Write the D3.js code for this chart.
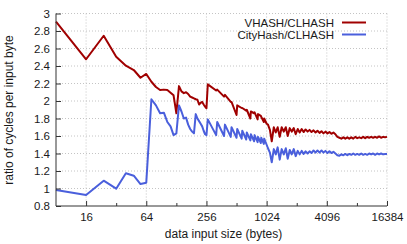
<!DOCTYPE html>
<html lang="en">
<head>
<meta charset="UTF-8">
<title>VHASH / CityHash vs CLHASH</title>
<script src="https://cdn.jsdelivr.net/npm/d3@7"></script>
<style>
  body { margin: 0; background: #fff; }
  svg { font-family: "Liberation Sans", Arial, sans-serif; }
  .axis path, .axis line { stroke: #333; }
  .axis text { fill: #1a1a1a; font-size: 11.5px; }
  .grid line { stroke: #c4c4c4; stroke-dasharray: 1,2; }
</style>
</head>
<body>
<div id="chart"></div>
<script>
// input sizes in bytes
var sizes = [8, 16, 24, 32, 40, 48, 56, 64, 72, 80, 88, 96, 104, 112, 120, 128,
  136, 144, 152, 160, 168, 176, 184, 192, 200, 208, 216, 224, 232, 240, 248, 256,
  264, 320, 328, 384, 392, 448, 456, 512, 520, 576, 584, 640, 648, 704, 712, 768,
  776, 832, 840, 896, 904, 960, 968, 1024,
  1056, 1104, 1152, 1208, 1264, 1320, 1384, 1448, 1520, 1592,
  1664, 1744, 1824, 1912, 2000, 2096, 2192, 2296, 2400, 2512,
  2632, 2752, 2880, 3016, 3160, 3304, 3464, 3624, 3792, 3968,
  4160, 4352, 4552, 4768, 4992, 5224, 5472, 5728, 5992, 6272,
  6568, 6872, 7200, 7536, 7888, 8256, 8640, 9048, 9472, 9912,
  10376, 10864, 11368, 11904, 12464, 13048, 13656, 14296, 14968, 15664, 16384];

var vhash = [2.906, 2.477, 2.746, 2.506, 2.403, 2.354, 2.266, 2.309, 2.22, 2.16, 2.125, 2.13, 2.125, 2.095, 2.065, 1.86,
  2.17, 2.11, 2.09, 2.10, 2.08, 2.05, 2.04, 2.03, 2.02, 2.014, 1.96, 1.98, 1.99, 1.96, 1.935, 1.917,
  2.19, 2.12, 2.13, 2.05, 2.07, 1.99, 1.99, 1.84, 1.95, 1.92, 1.92, 1.89, 1.90, 1.80, 1.88, 1.86,
  1.87, 1.79, 1.85, 1.83, 1.82, 1.76, 1.80, 1.74,
  1.73, 1.67, 1.54, 1.70, 1.64, 1.70, 1.59, 1.70, 1.65, 1.70,
  1.60, 1.69, 1.65, 1.69, 1.62, 1.68, 1.64, 1.68, 1.645, 1.675,
  1.65, 1.67, 1.645, 1.665, 1.64, 1.66, 1.635, 1.655, 1.63, 1.65,
  1.63, 1.645, 1.625, 1.64, 1.62, 1.59, 1.58, 1.57, 1.585, 1.57,
  1.585, 1.57, 1.585, 1.57, 1.59, 1.575, 1.585, 1.575, 1.59, 1.575,
  1.59, 1.58, 1.59, 1.58, 1.59, 1.58, 1.595, 1.58, 1.59, 1.585, 1.59];

var cityhash = [0.983, 0.926, 1.089, 0.998, 1.174, 1.146, 1.051, 1.066, 2.02, 1.95, 1.86, 1.866, 1.76, 1.71, 1.61, 1.63,
  1.95, 1.88, 1.80, 1.81, 1.73, 1.68, 1.65, 1.63, 1.85, 1.80, 1.77, 1.74, 1.71, 1.66, 1.62, 1.61,
  1.79, 1.61, 1.76, 1.60, 1.73, 1.59, 1.70, 1.58, 1.68, 1.57, 1.66, 1.56, 1.64, 1.55, 1.62, 1.54,
  1.61, 1.53, 1.59, 1.52, 1.58, 1.51, 1.57, 1.50,
  1.46, 1.41, 1.30, 1.45, 1.39, 1.47, 1.33, 1.45, 1.39, 1.46,
  1.34, 1.44, 1.39, 1.45, 1.37, 1.43, 1.39, 1.43, 1.395, 1.425,
  1.40, 1.425, 1.405, 1.435, 1.41, 1.435, 1.41, 1.435, 1.41, 1.43,
  1.405, 1.425, 1.405, 1.42, 1.40, 1.38, 1.375, 1.39, 1.38, 1.395,
  1.38, 1.395, 1.385, 1.40, 1.385, 1.395, 1.385, 1.40, 1.385, 1.395,
  1.385, 1.40, 1.39, 1.40, 1.385, 1.40, 1.39, 1.40, 1.39, 1.395, 1.395];

var seriesNames = ["VHASH/CLHASH", "CityHash/CLHASH"];
var seriesColors = ["#a00000", "#4a5fdc"];
var xMajor = [16, 64, 256, 1024, 4096, 16384];
var xMinor = [32, 128, 512, 2048, 8192];
var yTicks = [0.8, 1, 1.2, 1.4, 1.6, 1.8, 2, 2.2, 2.4, 2.6, 2.8, 3];

var w = 407, h = 244;
var plotL = 56, plotR = 387, plotT = 13.5, plotB = 206;

var svg = d3.select('#chart').append('svg')
  .attr('width', w)
  .attr('height', h);

var xScale = d3.scaleLog().base(2)
  .domain([8, 16384])
  .range([plotL, plotR]);

var yScale = d3.scaleLinear()
  .domain([0.8, 3])
  .range([plotB, plotT]);

// grid
svg.append('g').attr('class', 'grid')
  .selectAll('line').data(yTicks.slice(1)).enter().append('line')
  .attr('x1', plotL).attr('x2', plotR)
  .attr('y1', d => yScale(d)).attr('y2', d => yScale(d));

svg.append('g').attr('class', 'grid')
  .selectAll('line').data(xMajor).enter().append('line')
  .attr('x1', d => xScale(d)).attr('x2', d => xScale(d))
  .attr('y1', plotT).attr('y2', plotB);

// lines
var line = d3.line()
  .x((d, i) => xScale(sizes[i]))
  .y(d => yScale(d));

[vhash, cityhash].forEach(function(vals, k) {
  svg.append('path')
    .datum(vals)
    .attr('d', line)
    .attr('fill', 'none')
    .attr('stroke', seriesColors[k])
    .attr('stroke-width', 2)
    .attr('stroke-linejoin', 'round');
});

// axes
var yAxis = d3.axisLeft(yScale)
  .tickValues(yTicks)
  .tickFormat(d3.format('~g'))
  .tickSize(-5)
  .tickPadding(6);

svg.append('g')
  .attr('class', 'y axis')
  .attr('transform', 'translate(' + plotL + ',0)')
  .call(yAxis)
  .call(g => g.select('.domain').attr('d', 'M0,' + plotB + 'V' + plotT));

var xAxis = d3.axisBottom(xScale)
  .tickValues(xMajor)
  .tickFormat(d3.format('d'))
  .tickSize(-5)
  .tickPadding(7);

svg.append('g')
  .attr('class', 'x axis')
  .attr('transform', 'translate(0,' + plotB + ')')
  .call(xAxis)
  .call(g => g.select('.domain').attr('d', 'M' + plotL + ',0H' + plotR));

svg.append('g')
  .attr('class', 'x axis minor')
  .attr('transform', 'translate(0,' + plotB + ')')
  .call(d3.axisBottom(xScale).tickValues(xMinor).tickFormat('').tickSize(-3))
  .call(g => g.select('.domain').remove());

// titles
svg.append('text')
  .attr('x', (plotL + plotR) / 2 + 2)
  .attr('y', 238)
  .attr('text-anchor', 'middle')
  .attr('font-size', '12px')
  .attr('fill', '#1a1a1a')
  .text('data input size (bytes)');

svg.append('text')
  .attr('transform', 'translate(13,110) rotate(-90)')
  .attr('text-anchor', 'middle')
  .attr('font-size', '12px')
  .attr('fill', '#1a1a1a')
  .text('ratio of cycles per input byte');

// legend
var legend = svg.append('g');
seriesNames.forEach(function(name, k) {
  var ly = 22.5 + k * 12;
  legend.append('text')
    .attr('x', 334)
    .attr('y', ly)
    .attr('dy', '0.35em')
    .attr('text-anchor', 'end')
    .attr('font-size', '11.5px')
    .attr('fill', '#1a1a1a')
    .text(name);
  legend.append('line')
    .attr('x1', 342).attr('x2', 366)
    .attr('y1', ly).attr('y2', ly)
    .attr('stroke', seriesColors[k])
    .attr('stroke-width', 2);
});
</script>
</body>
</html>
